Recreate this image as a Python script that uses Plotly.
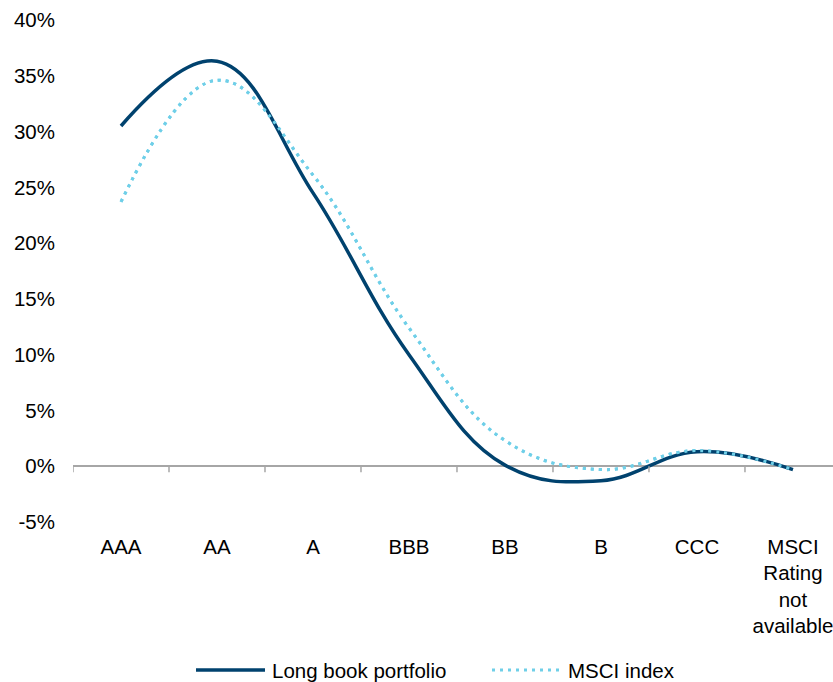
import plotly.graph_objects as go

categories = ["AAA", "AA", "A", "BBB", "BB", "B", "CCC", "MSCI<br>Rating<br>not<br>available"]
long_book = [30.5, 36.3, 24.5, 10.0, 0.1, -1.3, 1.3, -0.3]
msci_index = [23.7, 34.6, 26.1, 12.4, 2.3, -0.3, 1.4, -0.3]
y_ticks = [-5, 0, 5, 10, 15, 20, 25, 30, 35, 40]
y_tick_labels = ["-5%", "0%", "5%", "10%", "15%", "20%", "25%", "30%", "35%", "40%"]
series_names = ["Long book portfolio", "MSCI index"]

DARK = "#00426e"
LIGHT = "#6fcfe8"
FONT = "Liberation Sans, Arial, sans-serif"
FS = 20.5
SMOOTH = 1.15

xs = list(range(len(categories)))

fig = go.Figure()
fig.add_trace(go.Scatter(x=xs, y=msci_index, mode="lines", name=series_names[1],
                         line=dict(color=LIGHT, width=3, dash="3px,5px", shape="spline", smoothing=SMOOTH),
                         showlegend=False))
fig.add_trace(go.Scatter(x=xs, y=long_book, mode="lines", name=series_names[0],
                         line=dict(color=DARK, width=3.5, shape="spline", smoothing=SMOOTH),
                         showlegend=False))
# redraw dotted on top so overlapping segments show dots like the reference
fig.add_trace(go.Scatter(x=xs, y=msci_index, mode="lines", name=series_names[1],
                         line=dict(color=LIGHT, width=3, dash="3px,5px", shape="spline", smoothing=SMOOTH),
                         showlegend=False, hoverinfo="skip"))

shapes = []
# category boundary ticks on the zero line
for i in range(len(categories) + 1):
    shapes.append(dict(type="line", xref="x", yref="y", x0=i - 0.5, x1=i - 0.5,
                       ysizemode="pixel", yanchor=0, y0=0, y1=-6,
                       line=dict(color="#a6a6a6", width=1.5)))

# custom legend
px_l, px_w = 73, 760
py_b, py_h = 522, 502
def xp(px):
    return (px - px_l) / px_w
def yp(py):
    return (py_b - py) / py_h

leg_y = yp(670)
shapes.append(dict(type="line", xref="paper", yref="paper", x0=xp(196), x1=xp(265), y0=leg_y, y1=leg_y,
                   line=dict(color=DARK, width=3.5)))
shapes.append(dict(type="line", xref="paper", yref="paper", x0=xp(492), x1=xp(562), y0=leg_y, y1=leg_y,
                   line=dict(color=LIGHT, width=3, dash="3px,5px")))
annotations = [
    dict(xref="paper", yref="paper", x=xp(270), y=leg_y, text=series_names[0], showarrow=False,
         xanchor="left", yanchor="middle", font=dict(family=FONT, size=FS, color="#000000")),
    dict(xref="paper", yref="paper", x=xp(566), y=leg_y, text=series_names[1], showarrow=False,
         xanchor="left", yanchor="middle", font=dict(family=FONT, size=FS, color="#000000")),
]

fig.update_layout(
    width=833, height=682,
    margin=dict(l=73, r=0, t=20, b=160),
    paper_bgcolor="white", plot_bgcolor="white",
    font=dict(family=FONT, size=FS, color="#000000"),
    shapes=shapes, annotations=annotations,
    showlegend=False,
    xaxis=dict(range=[-0.5, 7.417], tickvals=xs, ticktext=categories, showgrid=False,
               zeroline=False, showline=False, ticks="", tickfont=dict(size=FS),
               ticklabelstandoff=10, ticklabeloverflow="allow"),
    yaxis=dict(range=[-5, 40], tickvals=y_ticks, ticktext=y_tick_labels, showgrid=False,
               zeroline=True, zerolinecolor="#a6a6a6", zerolinewidth=1.5,
               showline=False, ticks="", tickfont=dict(size=FS), ticklabelstandoff=17),
)

fig.write_html("out.html")
